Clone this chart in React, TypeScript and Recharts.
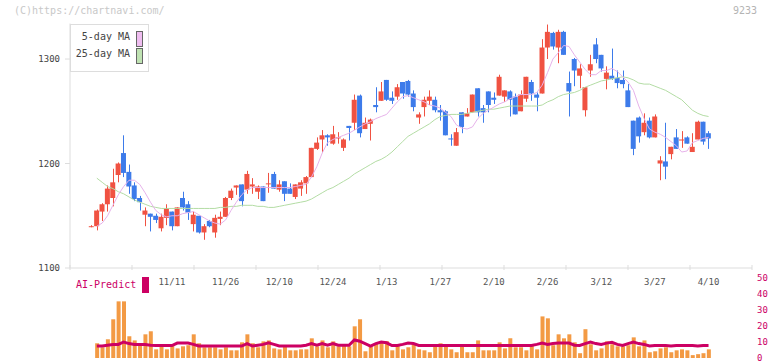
import React from 'react';
import { ComposedChart, Bar, Line, XAxis, YAxis } from 'recharts';

// trading days, 10/20 .. 4/10
const dates = [
  '10/20', '10/21', '10/22', '10/23', '10/24', '10/27', '10/28', '10/29', '10/30', '10/31',
  '11/4', '11/5', '11/6', '11/7', '11/10', '11/11', '11/12', '11/13', '11/14', '11/17',
  '11/18', '11/19', '11/20', '11/21', '11/25', '11/26', '11/27', '11/28', '12/1', '12/2',
  '12/3', '12/4', '12/5', '12/8', '12/9', '12/10', '12/11', '12/12', '12/15', '12/16',
  '12/17', '12/18', '12/19', '12/22', '12/23', '12/24', '12/25', '12/26', '12/29', '12/30',
  '1/5', '1/6', '1/7', '1/8', '1/9', '1/13', '1/14', '1/15', '1/16', '1/19',
  '1/20', '1/21', '1/22', '1/23', '1/26', '1/27', '1/28', '1/29', '1/30', '2/2',
  '2/3', '2/4', '2/5', '2/6', '2/9', '2/10', '2/12', '2/13', '2/16', '2/17',
  '2/18', '2/19', '2/20', '2/24', '2/25', '2/26', '2/27', '3/2', '3/3', '3/4',
  '3/5', '3/6', '3/9', '3/10', '3/11', '3/12', '3/13', '3/16', '3/17', '3/18',
  '3/19', '3/23', '3/24', '3/25', '3/26', '3/27', '3/30', '3/31', '4/1', '4/2',
  '4/3', '4/6', '4/7', '4/8', '4/9', '4/10',
];

const opens = [
  1140, 1140, 1154, 1161, 1167, 1189, 1210, 1192, 1179, 1167,
  1151, 1152, 1150, 1138, 1148, 1154, 1140, 1167, 1161, 1142,
  1150, 1134, 1145, 1134, 1147, 1149, 1167, 1177, 1180, 1175,
  1178, 1173, 1178, 1181, 1190, 1175, 1183, 1176, 1168, 1176,
  1181, 1187, 1214, 1223, 1227, 1219, 1224, 1215, 1236, 1239,
  1265, 1233, 1238, 1256, 1260, 1280, 1263, 1264, 1278, 1279,
  1267, 1244, 1254, 1260, 1261, 1251, 1250, 1224, 1217, 1249,
  1245, 1249, 1272, 1253, 1269, 1263, 1265, 1264, 1269, 1264,
  1250, 1262, 1278, 1266, 1267, 1311, 1325, 1311, 1326, 1277,
  1300, 1284, 1251, 1289, 1314, 1304, 1281, 1284, 1282, 1280,
  1270, 1241, 1244, 1230, 1241, 1225, 1200, 1202, 1209, 1225,
  1222, 1225, 1211, 1223, 1240, 1229,
];

const closes = [
  1140, 1155, 1161, 1176, 1182, 1200, 1191, 1178, 1166, 1163,
  1155, 1149, 1146, 1149, 1157, 1140, 1158, 1158, 1153, 1151,
  1134, 1140, 1140, 1148, 1149, 1167, 1174, 1179, 1164, 1190,
  1180, 1178, 1164, 1181, 1176, 1180, 1171, 1171, 1180, 1182,
  1187, 1215, 1220, 1227, 1225, 1228, 1225, 1223, 1234, 1261,
  1229, 1239, 1242, 1254, 1269, 1261, 1260, 1273, 1267, 1266,
  1254, 1247, 1261, 1264, 1251, 1249, 1227, 1223, 1230, 1235,
  1248, 1266, 1249, 1249, 1256, 1261, 1283, 1270, 1261, 1247,
  1266, 1283, 1267, 1263, 1311, 1326, 1312, 1326, 1304, 1269,
  1289, 1291, 1273, 1295, 1300, 1291, 1287, 1281, 1277, 1276,
  1254, 1214, 1226, 1239, 1225, 1245, 1203, 1197, 1216, 1214,
  1223, 1219, 1216, 1240, 1221, 1224,
];

const highs = [
  1141, 1156, 1162, 1179, 1195, 1201, 1227, 1199, 1182, 1169,
  1158, 1152, 1152, 1152, 1161, 1154, 1158, 1173, 1164, 1154,
  1150, 1142, 1146, 1151, 1154, 1168, 1176, 1179, 1180, 1193,
  1186, 1179, 1178, 1191, 1192, 1184, 1183, 1181, 1180, 1184,
  1188, 1215, 1225, 1232, 1228, 1236, 1230, 1224, 1236, 1266,
  1266, 1244, 1243, 1273, 1278, 1280, 1269, 1276, 1278, 1280,
  1270, 1249, 1264, 1270, 1264, 1256, 1251, 1228, 1234, 1249,
  1253, 1266, 1272, 1256, 1269, 1268, 1285, 1270, 1270, 1267,
  1270, 1283, 1280, 1268, 1319, 1333, 1326, 1328, 1327, 1288,
  1301, 1295, 1273, 1304, 1320, 1304, 1293, 1310, 1289, 1289,
  1276, 1241, 1245, 1248, 1244, 1247, 1207, 1239, 1216, 1233,
  1231, 1226, 1229, 1241, 1240, 1231,
];

const lows = [
  1139, 1136, 1145, 1154, 1159, 1182, 1187, 1171, 1164, 1155,
  1140, 1135, 1143, 1135, 1141, 1136, 1140, 1155, 1146, 1135,
  1133, 1127, 1139, 1129, 1141, 1149, 1165, 1170, 1159, 1171,
  1171, 1166, 1164, 1172, 1176, 1173, 1164, 1171, 1166, 1169,
  1171, 1187, 1213, 1210, 1217, 1218, 1219, 1212, 1222, 1232,
  1225, 1233, 1222, 1249, 1260, 1260, 1257, 1261, 1262, 1264,
  1250, 1238, 1245, 1256, 1249, 1241, 1227, 1217, 1217, 1229,
  1245, 1249, 1245, 1239, 1249, 1257, 1265, 1259, 1245, 1247,
  1250, 1259, 1260, 1250, 1267, 1300, 1309, 1296, 1304, 1245,
  1274, 1272, 1245, 1283, 1296, 1288, 1271, 1280, 1272, 1272,
  1254, 1208, 1220, 1227, 1224, 1225, 1184, 1185, 1204, 1214,
  1215, 1219, 1211, 1223, 1218, 1214,
];

const ma5 = [
  null, 1140, 1143, 1150, 1160, 1170, 1178, 1184, 1184, 1180,
  1172, 1163, 1155, 1151, 1149, 1150, 1150, 1152, 1153, 1154,
  1151, 1148, 1145, 1143, 1142, 1146, 1155, 1163, 1170, 1175,
  1177, 1177, 1177, 1177, 1177, 1177, 1177, 1177, 1178, 1179,
  1180, 1187, 1197, 1210, 1220, 1223, 1225, 1227, 1229, 1232,
  1235, 1238, 1240, 1243, 1245, 1247, 1253, 1259, 1264, 1265,
  1263, 1261, 1259, 1256, 1255, 1253, 1249, 1245, 1237, 1234,
  1233, 1235, 1243, 1248, 1251, 1254, 1257, 1259, 1262, 1264,
  1266, 1266, 1266, 1268, 1275, 1287, 1300, 1306, 1313, 1312,
  1304, 1297, 1290, 1285, 1285, 1289, 1289, 1291, 1288, 1283,
  1278, 1270, 1255, 1243, 1233, 1230, 1228, 1225, 1221, 1217,
  1211, 1212, 1220, 1222, 1224, 1225,
];

const ma25 = [
  null, 1186, 1182, 1178, 1176, 1173, 1171, 1168, 1165, 1163,
  1161, 1159, 1158, 1157, 1157, 1157, 1157, 1157, 1157, 1157,
  1157, 1157, 1157, 1157, 1158, 1158, 1159, 1159, 1160, 1160,
  1160, 1159, 1159, 1158, 1158, 1159, 1160, 1161, 1162, 1163,
  1164, 1166, 1169, 1172, 1175, 1177, 1180, 1183, 1186, 1190,
  1193, 1196, 1199, 1202, 1204, 1207, 1211, 1216, 1221, 1226,
  1229, 1232, 1235, 1238, 1242, 1245, 1246, 1247, 1247, 1247,
  1248, 1249, 1250, 1251, 1252, 1252, 1253, 1254, 1255, 1255,
  1255, 1255, 1255, 1255, 1256, 1259, 1261, 1264, 1266, 1267,
  1268, 1270, 1273, 1275, 1277, 1279, 1280, 1281, 1282, 1283,
  1282, 1280, 1277, 1276, 1276, 1274, 1272, 1270, 1267, 1264,
  1261, 1256, 1251, 1248, 1246, 1245,
];

const volumes = [
  null, 9.2, 6.7, 11.7, 24.2, 35.4, 35.4, 13.6, 11, 9.2,
  14.8, 16.7, 5.4, 8, 5.4, 8, 6, 7.3, 8, 14.8,
  9.2, 6.7, 6.7, 6.7, 5.4, 6.7, 4.8, 4.8, 9.8, 14.8,
  9.2, 6.7, 10.4, 11, 6, 5.4, 8, 4.8, 4.8, 5.4,
  5.4, 12.3, 7.3, 11, 6.7, 10.4, 7.3, 8, 7.3, 19.8,
  24.2, 4.2, 7.3, 9, 10.4, 10.5, 4.8, 8.6, 5.4, 6.7,
  8.6, 5.4, 4.8, 3.6, 7.3, 9.2, 8, 5.4, 3.6, 7.3,
  3.6, 3.6, 11, 4.8, 4.8, 4.8, 9.8, 6, 12.3, 6.7,
  6.7, 4.8, 8, 5.4, 26, 24.8, 8, 14.8, 12.3, 14.8,
  9.8, 3, 18, 8.6, 4.8, 6, 10.4, 8.6, 7.3, 7.3,
  8, 12.9, 7.3, 11, 3.6, 4.2, 6, 6.7, 3.6, 4.8,
  5.4, 4.8, 1.8, 2.4, 3, 5.4,
];

const aiPredict = [
  null, 7.5, 7.5, 8, 8.5, 8.5, 10, 9, 8.5, 8.5,
  8.5, 8, 7.8, 7.8, 7.8, 7.8, 9.3, 9.3, 9.3, 8.5,
  7.5, 7.5, 7.5, 7.5, 7.5, 7.5, 7.5, 7.5, 7.5, 9,
  7.5, 8, 8.5, 9.5, 8.5, 7.5, 7.5, 7.5, 7.5, 7.5,
  8, 9, 8, 9, 8, 9, 8, 8, 8, 11.3,
  10.5, 9, 7.5, 9, 10, 9.5, 7.8, 7.8, 8.5, 9.3,
  9, 7.8, 7.8, 7.8, 7.8, 7.8, 7.8, 7.8, 7.8, 7.8,
  7.8, 7.8, 7.8, 7.8, 7.8, 7.8, 7.8, 7.8, 7.8, 7.8,
  7.8, 7.8, 7.8, 8.5, 9.3, 8.5, 9, 9.3, 9.3, 9.3,
  8, 7.8, 9, 10, 9, 8.5, 9.3, 9.8, 8.5, 7.8,
  9, 10, 9, 8.5, 7.5, 7.8, 7.8, 7.8, 7.5, 7.8,
  7.8, 7.8, 7.8, 7.5, 7.8, 7.8,
];

const dateTicks = [16, 26, 36, 46, 56, 66, 76, 86, 96, 106, 116];
const priceTicks = [1100, 1200, 1300];
const volumeTicks = [0, 10, 20, 30, 40, 50];

const X_MIN = -3;
const X_MAX = 124.1;
const gridTicks = Array.from({ length: 12 }, (_, k) => X_MIN + (k * (X_MAX - X_MIN)) / 11);

const UP = '#f05242';
const DOWN = '#3d7bea';
const MONO = "'DejaVu Sans Mono', 'Liberation Mono', monospace";

const rows = dates.map((d, k) => ({
  i: k + 1,
  date: d,
  open: opens[k],
  close: closes[k],
  high: highs[k],
  low: lows[k],
  range: [lows[k], highs[k]],
  ma5: ma5[k],
  ma25: ma25[k],
  vol: volumes[k],
  ai: aiPredict[k],
}));

const Candle = (props: any) => {
  const { x, y, width, height, payload } = props;
  const { open, close, high, low } = payload;
  const top = Math.min(y, y + height);
  const h = Math.abs(height);
  const ratio = h / (high - low || 1);
  const py = (v: number) => top + (high - v) * ratio;
  const color = close >= open ? UP : DOWN;
  const cx = Math.round(x + width / 2) + 0.5;
  const bTop = py(Math.max(open, close));
  const bBot = py(Math.min(open, close));
  return (
    <g>
      <line x1={cx} x2={cx} y1={top} y2={top + h} stroke={color} strokeWidth={1} />
      <rect x={x} y={bTop} width={width} height={Math.max(bBot - bTop, 1)} fill={color} />
    </g>
  );
};

const VolumeTick = (props: any) => {
  const { x, y, payload } = props;
  return (
    <text x={x} y={y + 2.5} fill="#cc0066" fontSize={9} fontFamily={MONO} textAnchor="start">
      {payload.value}
    </text>
  );
};

export default function App() {
  return (
    <div style={{ position: 'absolute', left: 0, top: 0, width: 772, height: 361, background: '#fff', fontFamily: MONO }}>
      <div style={{ position: 'absolute', left: 0, top: 0 }}>
        <ComposedChart width={772} height={300} data={rows} margin={{ top: 23.5, right: 20, bottom: 0, left: 0 }}>
          <XAxis
            dataKey="i"
            type="number"
            domain={[X_MIN, X_MAX]}
            allowDataOverflow
            ticks={dateTicks}
            interval={0}
            tickFormatter={(v: number) => dates[v - 1]}
            axisLine={{ stroke: '#dddddd' }}
            tickLine={false}
            tickMargin={5}
            height={32}
            tick={{ fill: '#555', fontSize: 9, fontFamily: MONO }}
          />
          <YAxis
            domain={[1100, 1334]}
            allowDataOverflow
            ticks={priceTicks}
            interval={0}
            width={70}
            axisLine={{ stroke: '#dddddd' }}
            tickLine={{ stroke: '#dddddd' }}
            tickSize={5}
            tickMargin={5}
            tick={{ fill: '#444', fontSize: 9, fontFamily: MONO }}
          />
          <Line dataKey="ma25" stroke="#b3dca4" strokeWidth={1} dot={false} isAnimationActive={false} />
          <Line dataKey="ma5" stroke="#e6b2ea" strokeWidth={1} dot={false} isAnimationActive={false} />
          <Bar dataKey="range" barSize={5} shape={Candle} isAnimationActive={false} />
        </ComposedChart>
      </div>

      <div style={{ position: 'absolute', left: 0, top: 255 }}>
        <ComposedChart width={772} height={106} data={rows} margin={{ top: 0, right: 0, bottom: 3, left: 70 }}>
          <XAxis
            dataKey="i"
            type="number"
            orientation="top"
            domain={[X_MIN, X_MAX]}
            allowDataOverflow
            ticks={gridTicks}
            interval={0}
            tickFormatter={() => ''}
            axisLine={false}
            tickLine={{ stroke: '#dddddd' }}
            tickSize={5}
            height={15}
          />
          <YAxis
            orientation="right"
            domain={[0, 55]}
            allowDataOverflow
            ticks={volumeTicks}
            interval={0}
            width={20}
            axisLine={false}
            tickLine={false}
            tickSize={0}
            tickMargin={5}
            tick={VolumeTick}
          />
          <Bar dataKey="vol" barSize={4} fill="#f39a44" isAnimationActive={false} />
          <Line dataKey="ai" stroke="#cc0063" strokeWidth={3} dot={false} isAnimationActive={false} />
        </ComposedChart>
      </div>

      <div style={{ position: 'absolute', left: 14, top: 5, fontSize: 10, color: '#c8c8c8' }}>(C)https://chartnavi.com/</div>
      <div style={{ position: 'absolute', left: 733, top: 5, fontSize: 10, color: '#b4b4b4' }}>9233</div>

      <div style={{ position: 'absolute', left: 70, top: 24, width: 77, height: 46, border: '1px solid #dddddd', background: '#fff', fontSize: 10, color: '#444' }}>
        <div style={{ position: 'absolute', right: 18, top: 6, whiteSpace: 'nowrap' }}>5-day MA</div>
        <div style={{ position: 'absolute', right: 18, top: 23, whiteSpace: 'nowrap' }}>25-day MA</div>
        <div style={{ position: 'absolute', left: 65, top: 6, width: 5, height: 14, background: '#efbdf0', border: '1px solid #666' }} />
        <div style={{ position: 'absolute', left: 65, top: 23, width: 5, height: 14, background: '#bfe2b2', border: '1px solid #666' }} />
      </div>

      <div style={{ position: 'absolute', left: 76, top: 279, fontSize: 10, color: '#cc0066' }}>AI-Predict</div>
      <div style={{ position: 'absolute', left: 142, top: 277, width: 7, height: 16, background: '#cc0063' }} />
    </div>
  );
}
